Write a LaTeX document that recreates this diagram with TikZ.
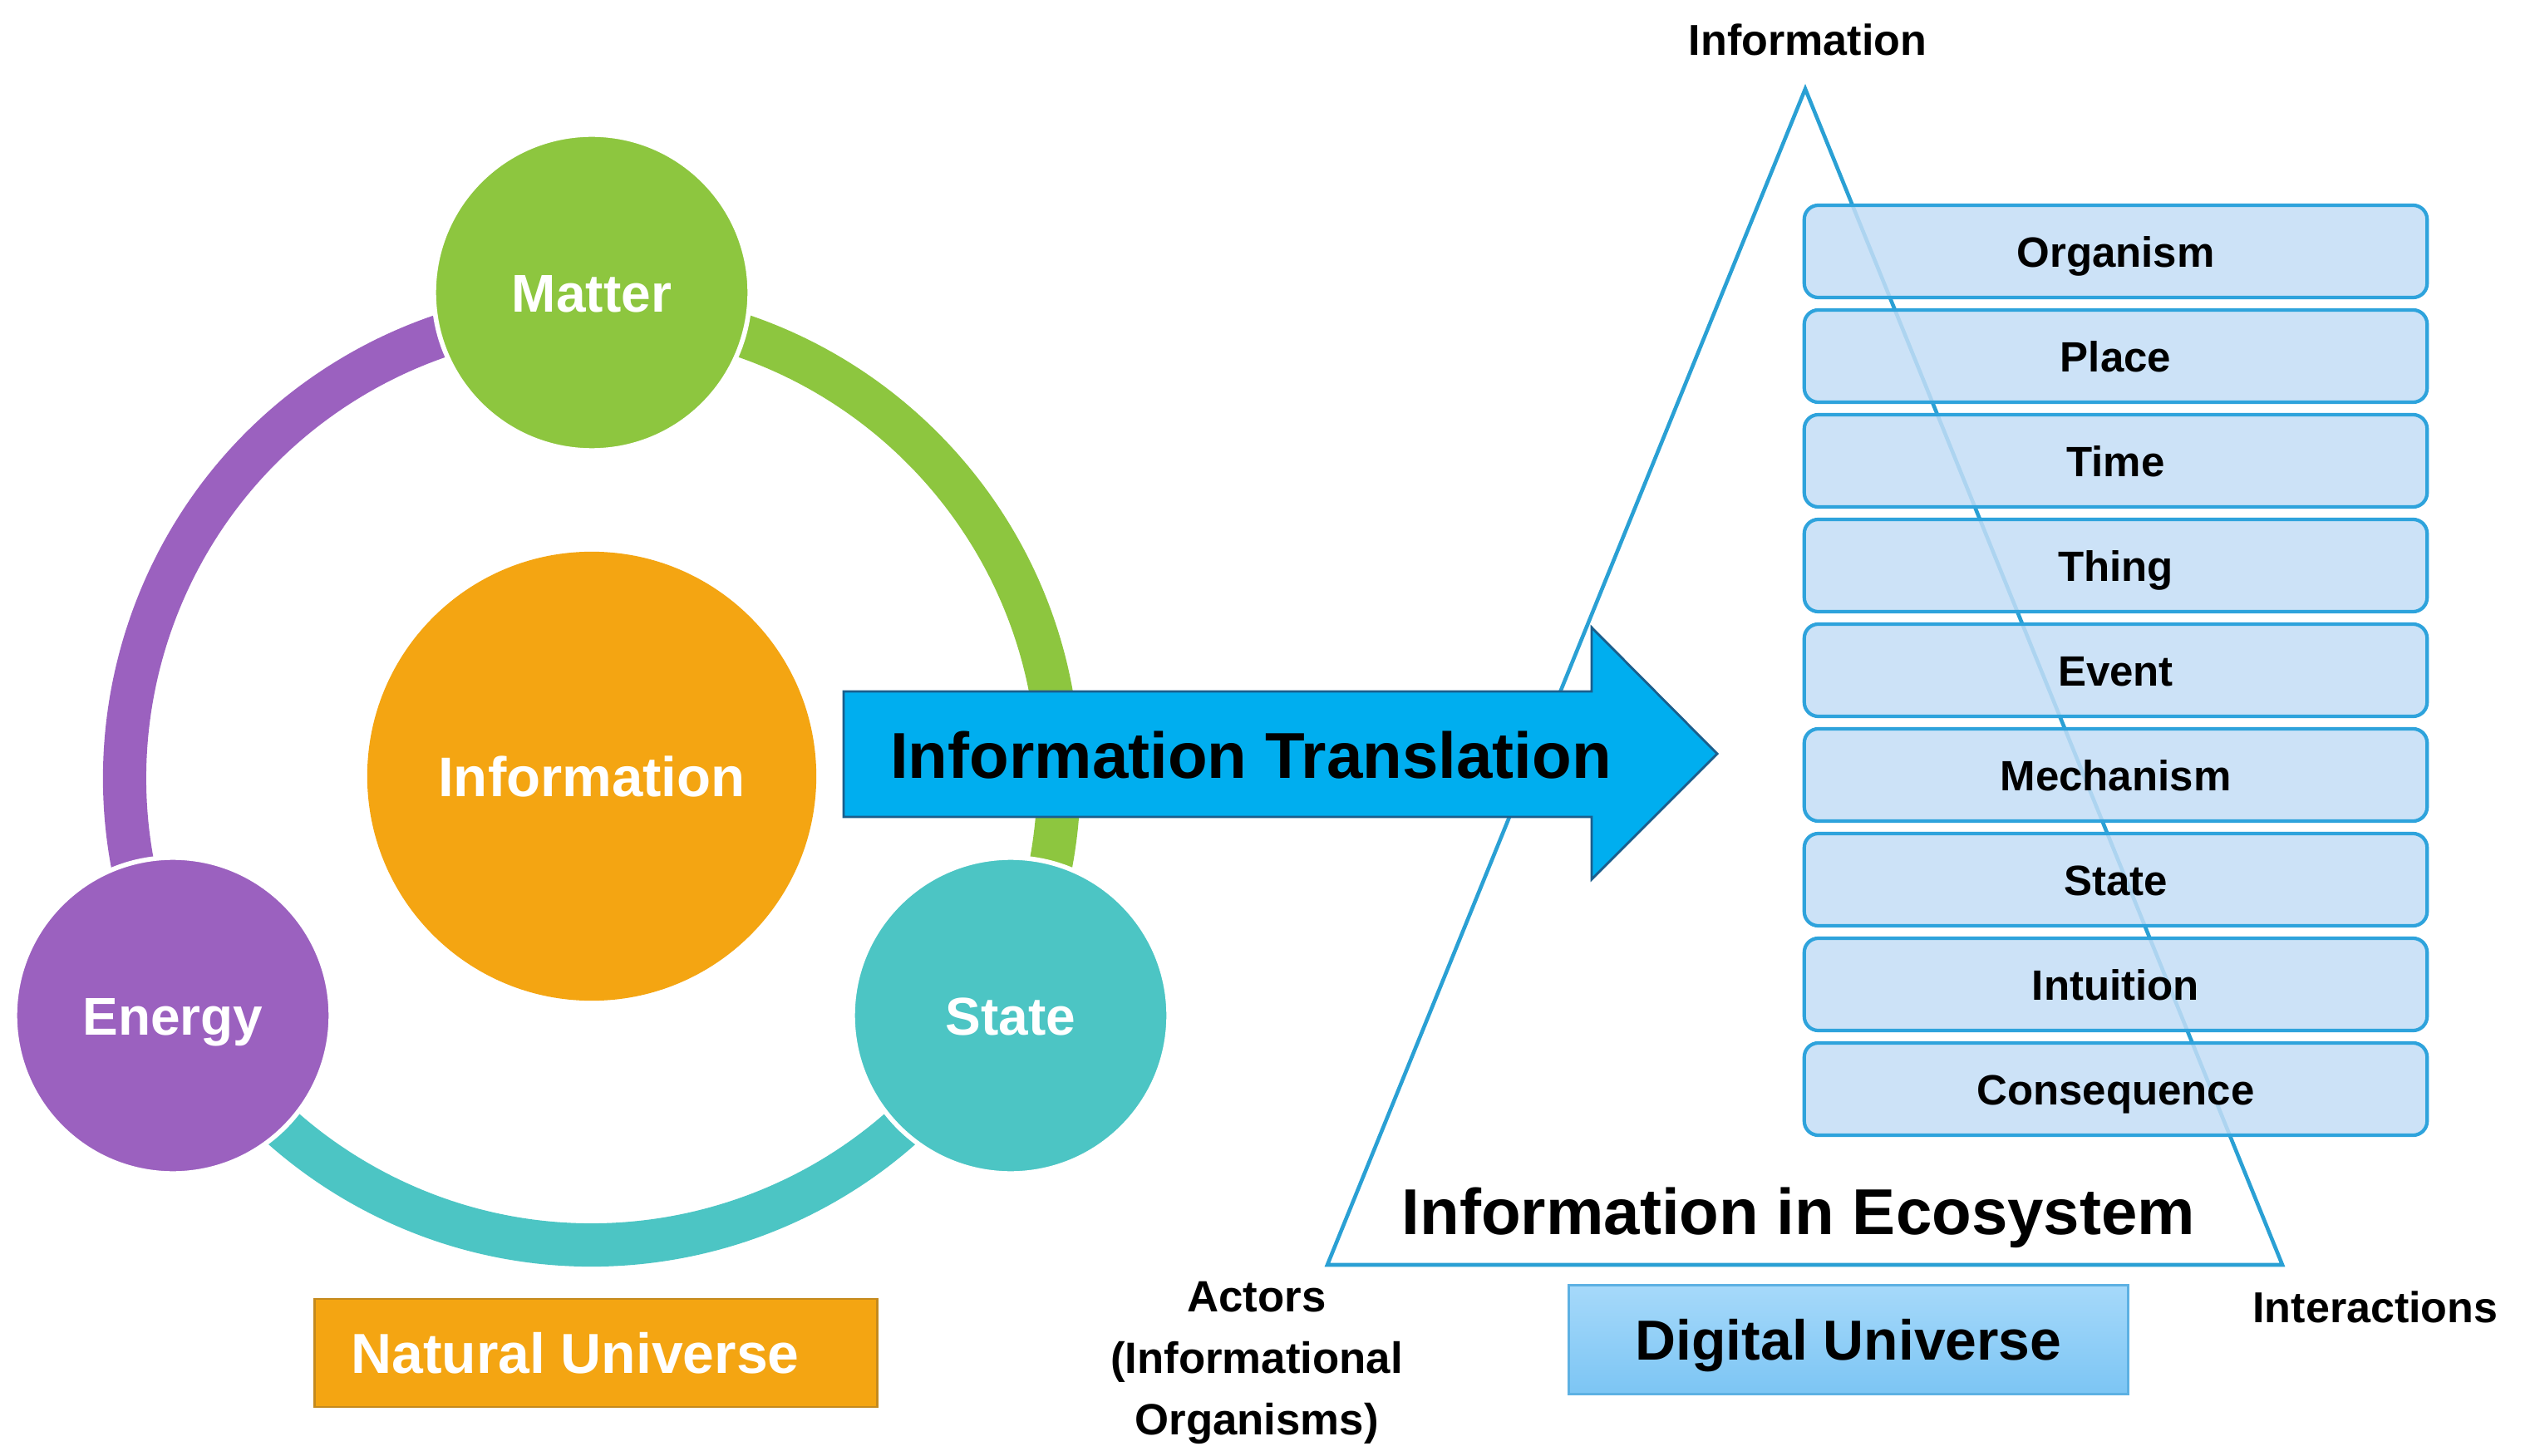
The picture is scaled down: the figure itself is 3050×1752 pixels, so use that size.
\documentclass[tikz,border=0pt]{standalone}
\usepackage{fontspec}
\setmainfont{Liberation Sans}
\usetikzlibrary{calc}
\definecolor{cgreen}{HTML}{8DC63F}
\definecolor{cpurple}{HTML}{9B61BF}
\definecolor{cteal}{HTML}{4CC5C4}
\definecolor{corange}{HTML}{F4A512}
\definecolor{corangedk}{HTML}{C48A1E}
\definecolor{carrow}{HTML}{00AEEF}
\definecolor{carrowdk}{HTML}{1B5E8C}
\definecolor{cboxfill}{HTML}{C4DEF6}
\definecolor{cboxline}{HTML}{2EA3DC}
\definecolor{ctri}{HTML}{2AA0D4}
\definecolor{cdutop}{HTML}{A6D9FA}
\definecolor{cdubot}{HTML}{7CC5F4}
\definecolor{cduline}{HTML}{5DB1E3}
\newcommand\myfs[2]{\fontsize{#1}{#2}\selectfont}
\begin{document}
\begin{tikzpicture}[x=0.01cm,y=-0.01cm,
  bigcirc/.style={circle,draw=white,line width=1.6pt,inner sep=0pt,minimum size=3.8cm,
    text=white,font=\myfs{18.2}{22}\bfseries,text height=0.46cm,text depth=0cm},
  ring/.style={line width=14.8pt},
  itembox/.style={draw=cboxline,line width=1.2pt,fill=cboxfill,fill opacity=0.85,text opacity=1,
    rounded corners=0.17cm,minimum width=7.49cm,minimum height=1.11cm,inner sep=0pt,
    font=\myfs{14.5}{17}\bfseries,text height=0.37cm,text depth=0cm},
  plain/.style={inner sep=0pt,font=\myfs{14.8}{18}\bfseries},
  bigtext/.style={inner sep=0pt,font=\myfs{22.2}{26}\bfseries}]
\useasboundingbox (0,0) rectangle (3050,1752);
\fill[white] (0,0) rectangle (3050,1752);

% ring
\draw[ring,cpurple] ($(712,936)+(150:562)$) arc[start angle=150,end angle=270,radius=562];
\draw[ring,cgreen] ($(712,936)+(270:562)$) arc[start angle=270,end angle=390,radius=562];
\draw[ring,cteal] ($(712,936)+(30:562)$) arc[start angle=30,end angle=150,radius=562];

% circles
\node[bigcirc,fill=cgreen] (matter) at (712,352) {Matter};
\node[bigcirc,fill=cpurple] (energy) at (208,1222) {Energy};
\node[bigcirc,fill=cteal] (state) at (1216,1222) {State};
\node[circle,fill=corange,inner sep=0pt,minimum size=5.4cm,text=white,
  font=\myfs{19.1}{23}\bfseries,text height=0.48cm,text depth=0cm] (info) at (712,934) {Information};

% natural universe
\node[draw=corangedk,line width=0.8pt,fill=corange,minimum width=6.76cm,minimum height=1.30cm,
  inner sep=0pt,text=white,font=\myfs{19.3}{23}\bfseries,text height=0.49cm,text depth=0cm]
  (natural) at (717,1628) {Natural Universe\hspace*{0.5cm}};

% triangle
\coordinate (apex) at (2172,107);
\coordinate (bl) at (1597,1522);
\coordinate (br) at (2746,1522);
\draw[ctri,line width=1.3pt,line join=miter] (apex) -- (br) -- (bl) -- cycle;

% arrow
\draw[fill=carrow,draw=carrowdk,line width=0.8pt] (1015,832) -- (1915,832) -- (1915,755)
  -- (2066,907) -- (1915,1058) -- (1915,983) -- (1015,983) -- cycle;
\node[bigtext,anchor=base] (trans) at (1505,936) {Information Translation};

% stacked items
\foreach \t [count=\i from 0] in {Organism,Place,Time,Thing,Event,Mechanism,State,Intuition,Consequence}
  \node[itembox] (item\i) at (2545.5,{302.5+126*\i}) {\t};

% digital universe
\node[draw=cduline,line width=0.8pt,top color=cdutop,bottom color=cdubot,minimum width=6.73cm,
  minimum height=1.31cm,inner sep=0pt,font=\myfs{19.3}{23}\bfseries,text height=0.49cm,
  text depth=0cm] (digital) at (2224,1612) {Digital Universe};

% labels
\node[bigtext,anchor=base] (eco) at (2164,1485) {Information in Ecosystem};
\node[plain,anchor=base] (toplab) at (2175,67) {Information};
\node[plain,anchor=base] (inter) at (2858,1591) {Interactions};
\node[plain,align=center,font=\myfs{15}{21}\bfseries] (actors) at (1512,1640)
  {Actors\\(Informational\\Organisms)};
\end{tikzpicture}
\end{document}
